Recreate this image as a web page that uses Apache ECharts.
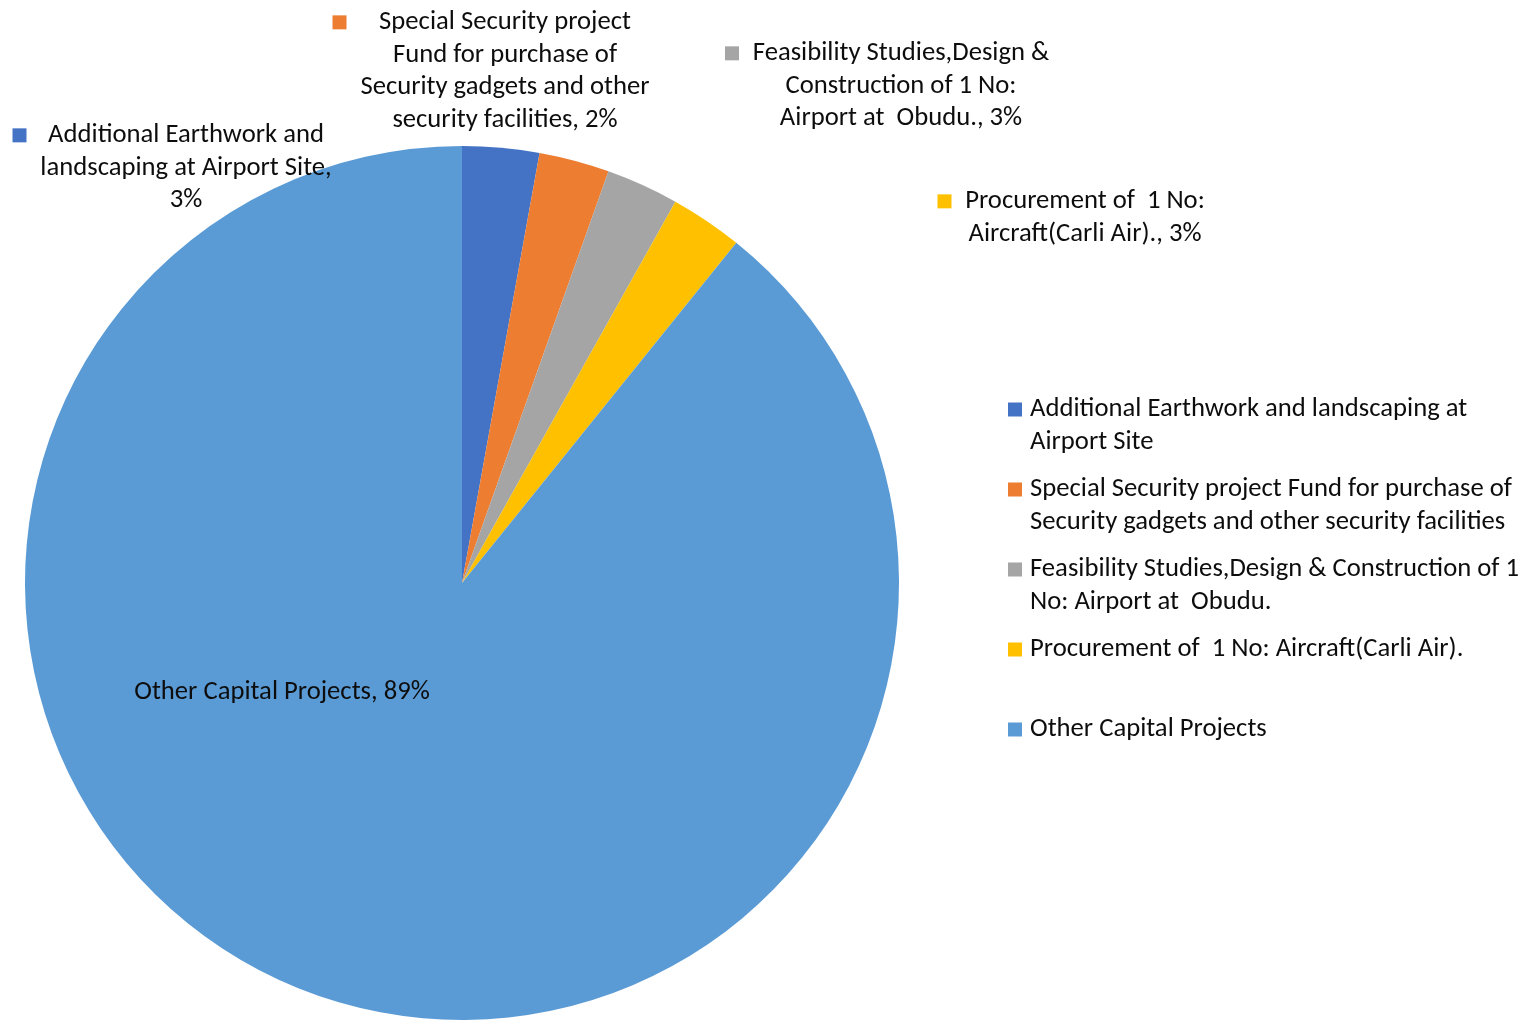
<!DOCTYPE html>
<html><head><meta charset="utf-8">
<script src="https://cdn.jsdelivr.net/npm/echarts@6/dist/echarts.min.js"></script>
<style>html,body{margin:0;padding:0;background:#fff}#c{width:1526px;height:1020px}</style>
</head><body><div id="c"></div>
<script>
const categories = [
  'Additional Earthwork and landscaping at Airport Site',
  'Special Security project Fund for purchase of Security gadgets and other security facilities',
  'Feasibility Studies,Design & Construction of 1 No: Airport at  Obudu.',
  'Procurement of  1 No: Aircraft(Carli Air).',
  'Other Capital Projects'
];
const values = [2.84, 2.6, 2.68, 2.68, 89.2];
const legendLines = [
  ['Additional Earthwork and landscaping at', 'Airport Site'],
  ['Special Security project Fund for purchase of', 'Security gadgets and other security facilities'],
  ['Feasibility Studies,Design & Construction of 1', 'No: Airport at  Obudu.'],
  ['Procurement of  1 No: Aircraft(Carli Air).'],
  ['Other Capital Projects']
];
const labelLines = [
  ['Additional Earthwork and', 'landscaping at Airport Site,', '#'],
  ['Special Security project', 'Fund for purchase of', 'Security gadgets and other', 'security facilities, #'],
  ['Feasibility Studies,Design &', 'Construction of 1 No:', 'Airport at  Obudu., #'],
  ['Procurement of  1 No:', 'Aircraft(Carli Air)., #'],
  ['Other Capital Projects, #']
];
const colors = ['#4472C4', '#ED7D31', '#A5A5A5', '#FFC000', '#5B9BD5'];

const FONT = 'Carlito, Lato, sans-serif';
const FS = 26.67;
const LH = 32.7;
const LLH = 33;
const labelAnchors = [[186, 119], [505, 6], [901, 37], [1085, 185], [282, 676]];
const showKey = [true, true, true, true, false];

// measure widest line of each label so every line shares one box width
const mctx = document.createElement('canvas').getContext('2d');
mctx.font = FS + 'px ' + FONT;
const boxW = labelLines.map(ls => Math.ceil(Math.max.apply(null, ls.map(l => mctx.measureText(l.replace('#', '0%')).width))) + 1);

const rich = {
  gap: { width: 13, height: 14, lineHeight: LH },
  sp: { width: 27, height: 14, lineHeight: LH, align: 'right' },
  lsp: { width: 27, height: 14, lineHeight: LH }
};
colors.forEach((c, i) => {
  rich['k' + i] = { width: 14, height: 14, backgroundColor: c, lineHeight: LH };
  rich['t' + i] = { fontFamily: FONT, fontSize: FS, lineHeight: LH, color: '#0d0d0d', align: 'center', width: boxW[i] };
});

const chart = echarts.init(document.getElementById('c'), null, { renderer: 'canvas' });
chart.setOption({
  backgroundColor: '#ffffff',
  animation: false,
  color: colors,
  legend: {
    orient: 'vertical',
    left: 1008,
    top: 360,
    padding: 0,
    itemWidth: 14,
    itemHeight: 14,
    itemGap: -19,
    icon: 'rect',
    data: categories,
    formatter: function (name) {
      const lines = legendLines[categories.indexOf(name)];
      return ' \n' + lines.join('\n') + (lines.length === 1 ? '\n ' : '');
    },
    textStyle: { fontFamily: FONT, fontSize: FS, lineHeight: LLH, color: '#0d0d0d', padding: [0, 0, 0, 3] }
  },
  series: [{
    type: 'pie',
    center: [462, 583],
    radius: 437,
    startAngle: 90,
    clockwise: true,
    avoidLabelOverlap: false,
    percentPrecision: 0,
    data: categories.map((n, i) => ({ name: n, value: values[i] })),
    itemStyle: { borderWidth: 0 },
    label: {
      show: true,
      position: 'outside',
      formatter: function (p) {
        const i = p.dataIndex;
        const lines = labelLines[i].map(s => s.replace('#', p.percent + '%'));
        if (!showKey[i]) return lines.map(l => '{t' + i + '|' + l + '}').join('\n');
        return lines.map((l, j) => (j === 0 ? '{k' + i + '|}{gap|}' : '{lsp|}') + '{t' + i + '|' + l + '}{sp|}').join('\n');
      },
      rich: rich
    },
    labelLine: { show: false },
    labelLayout: function (params) {
      const a = labelAnchors[params.dataIndex];
      return { x: a[0], y: a[1], align: 'center', verticalAlign: 'top' };
    },
    emphasis: { disabled: true }
  }]
});
</script>
</body></html>
